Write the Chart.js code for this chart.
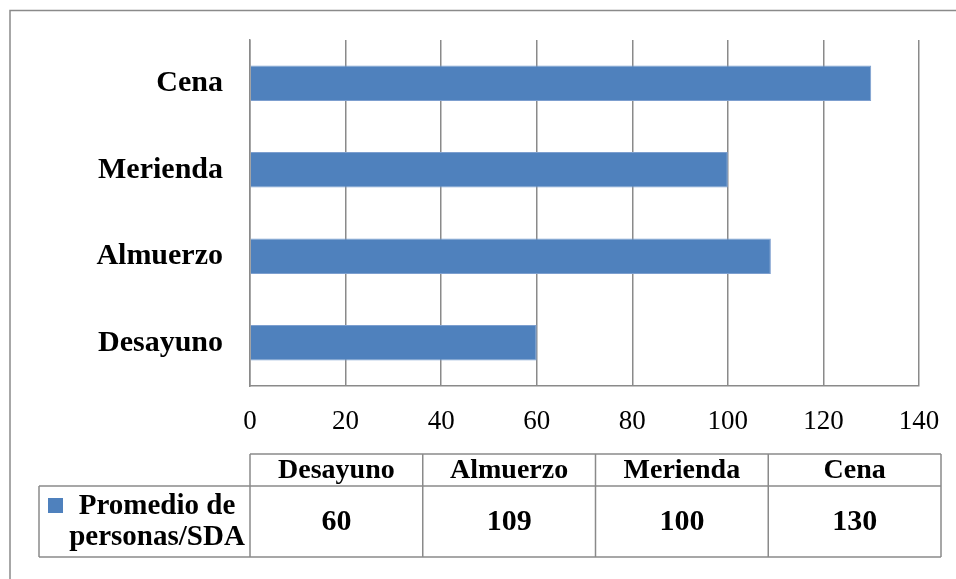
<!DOCTYPE html>
<html>
<head>
<meta charset="utf-8">
<script src="https://cdn.jsdelivr.net/npm/chart.js@4"></script>
<style>
  html, body { margin: 0; padding: 0; background: #fff; }
  #wrap { width: 956px; height: 579px; position: relative; }
</style>
</head>
<body>
<div id="wrap"><canvas id="myChart" width="956" height="579"></canvas></div>
<script>
// data
const comidas = ['Desayuno', 'Almuerzo', 'Merienda', 'Cena'];
const promedioPersonas = [60, 109, 100, 130];
const serieNombre = ['Promedio de', 'personas/SDA'];
const xTicks = [0, 20, 40, 60, 80, 100, 120, 140];

const azul = '#4f81bd';
const gris = '#8a8a8a';
const fuente = '"Liberation Serif", "Times New Roman", serif';

// outer frame + data table under the chart
const tablaPlugin = {
    id: 'tabla',
    afterDraw(chart) {
        const ctx = chart.ctx;
        const area = chart.chartArea;
        ctx.save();

        ctx.strokeStyle = gris;
        ctx.lineWidth = 1.5;
        ctx.strokeRect(10, 10.5, 1000, 1000);

        const left = area.left;
        const colW = 172.75;
        const right = left + colW * comidas.length;
        const yTop = 454, yMid = 486, yBot = 557;
        const legLeft = 39;

        ctx.beginPath();
        ctx.moveTo(left, yTop); ctx.lineTo(right, yTop);
        ctx.moveTo(legLeft, yMid); ctx.lineTo(right, yMid);
        ctx.moveTo(legLeft, yBot); ctx.lineTo(right, yBot);
        ctx.moveTo(legLeft, yMid); ctx.lineTo(legLeft, yBot);
        for (let i = 0; i <= comidas.length; i++) {
            const x = left + colW * i;
            ctx.moveTo(x, yTop); ctx.lineTo(x, yBot);
        }
        ctx.stroke();

        ctx.fillStyle = '#000';
        ctx.textAlign = 'center';
        ctx.textBaseline = 'middle';
        for (let i = 0; i < comidas.length; i++) {
            const cx = left + colW * i + colW / 2;
            ctx.font = 'bold 28px ' + fuente;
            ctx.fillText(comidas[i], cx, 471);
            ctx.font = 'bold 30px ' + fuente;
            ctx.fillText(String(promedioPersonas[i]), cx, 522);
        }

        // legend key
        ctx.fillStyle = azul;
        ctx.fillRect(48, 498, 15, 15);
        ctx.fillStyle = '#000';
        ctx.font = 'bold 29px ' + fuente;
        ctx.fillText(serieNombre[0], 157, 507);
        ctx.fillText(serieNombre[1], 157, 538);

        ctx.restore();
    }
};

const ctx = document.getElementById('myChart');

new Chart(ctx, {
    type: 'bar',
    data: {
        labels: comidas,
        datasets: [{
            label: serieNombre.join(' '),
            data: promedioPersonas,
            backgroundColor: azul,
            borderColor: '#7d9fcf',
            borderWidth: 1,
            categoryPercentage: 1,
            barPercentage: 0.41
        }]
    },
    options: {
        indexAxis: 'y',
        responsive: false,
        animation: false,
        layout: {
            padding: { left: 0, top: 40, right: 37, bottom: 133 }
        },
        plugins: {
            legend: { display: false },
            tooltip: { enabled: false }
        },
        scales: {
            x: {
                min: 0,
                max: 140,
                afterBuildTicks: (scale) => { scale.ticks = xTicks.map(v => ({ value: v })); },
                afterFit: (scale) => {
                    scale.height = 60;
                    scale.paddingLeft = 0;
                    scale.paddingRight = 0;
                },
                grid: { color: gris, lineWidth: 1.5, drawTicks: false },
                border: { color: gris, width: 1.5 },
                ticks: {
                    color: '#000',
                    padding: 20,
                    maxRotation: 0,
                    font: { family: fuente, size: 27 }
                }
            },
            y: {
                reverse: true,
                afterFit: (scale) => {
                    scale.width = 250;
                    scale.paddingTop = 0;
                    scale.paddingBottom = 0;
                },
                grid: { display: false, drawTicks: false },
                border: { color: gris, width: 1.5 },
                ticks: {
                    color: '#000',
                    padding: 27,
                    font: { family: fuente, size: 30, weight: 'bold' }
                }
            }
        }
    },
    plugins: [tablaPlugin]
});
</script>
</body>
</html>
